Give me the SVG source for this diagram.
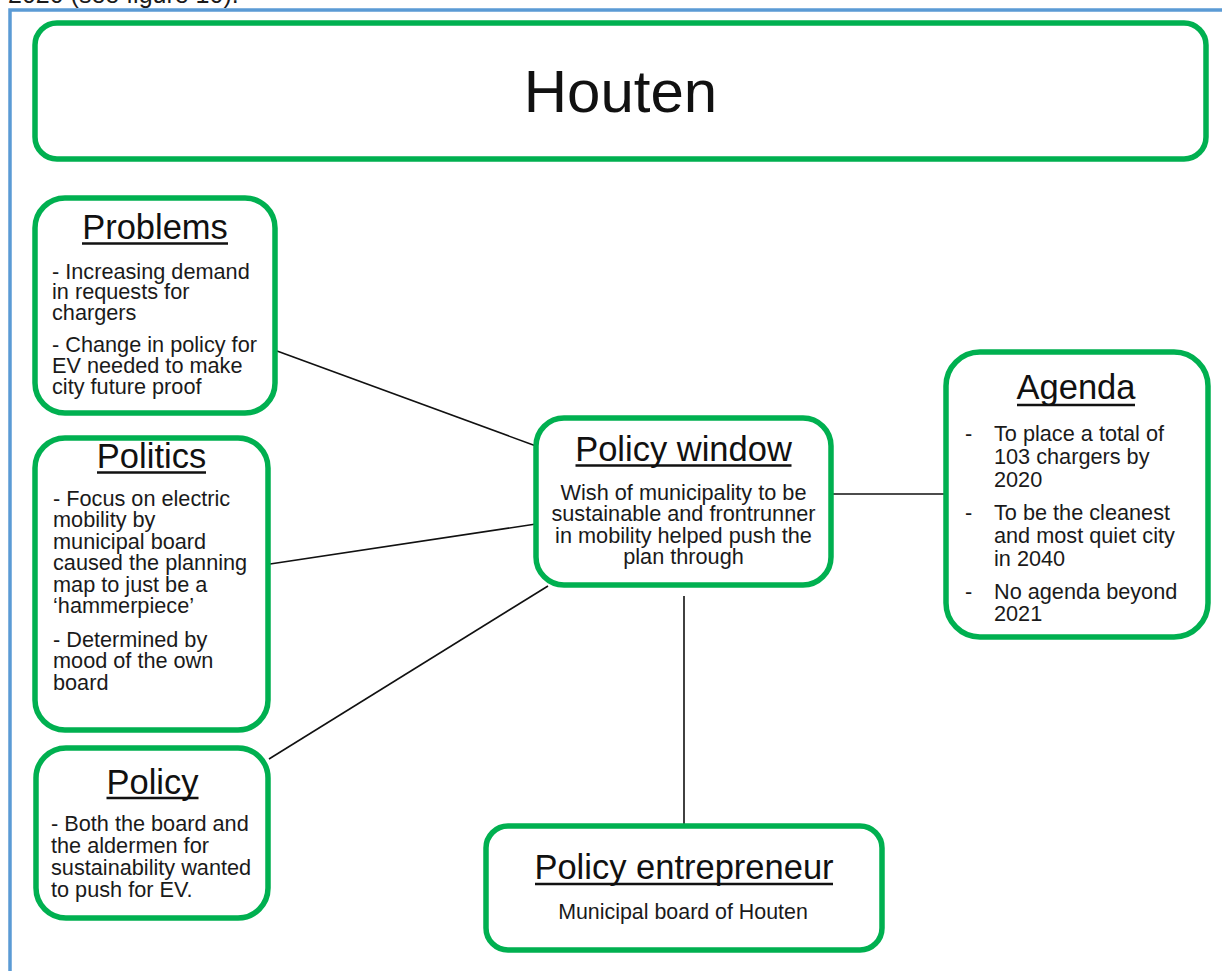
<svg xmlns="http://www.w3.org/2000/svg" width="1222" height="971" viewBox="0 0 1222 971">
  <style>
    .box { fill: #ffffff; stroke: #00b050; stroke-width: 5.5; }
    .frame { stroke: #5b9bd5; stroke-width: 3.5; fill: none; }
    .link { stroke: #111111; stroke-width: 1.6; fill: none; }
    .title { font-family: "Liberation Sans", Arial, sans-serif; font-size: 34.5px; fill: #111111; text-anchor: middle; }
    .uline { stroke: #111111; stroke-width: 2.4; }
    .body { font-family: "Liberation Sans", Arial, sans-serif; font-size: 21.7px; fill: #1a1a1a; }
    .mid { text-anchor: middle; }
    .head { font-family: "Liberation Sans", Arial, sans-serif; font-size: 60px; fill: #111111; text-anchor: middle; }
  </style>

  <rect width="1222" height="971" fill="#ffffff"/>

  <!-- running text above the figure frame, clipped by the page edge -->
  <text x="8" y="2.5" class="body" style="font-size:25px">2020 (see figure 10).</text>

  <!-- figure frame -->
  <path class="frame" d="M10,971 V10 H1222"/>

  <!-- connectors -->
  <g id="connectors">
    <line class="link" x1="277" y1="351" x2="536" y2="446"/>
    <line class="link" x1="270" y1="564" x2="536" y2="524"/>
    <line class="link" x1="269" y1="759" x2="548" y2="586"/>
    <line class="link" x1="832" y1="494" x2="944" y2="494"/>
    <line class="link" x1="684" y1="596" x2="684" y2="826"/>
  </g>

  <g id="houten">
    <rect class="box" x="35" y="23" width="1171" height="136" rx="22"/>
    <text class="head" x="620.5" y="112">Houten</text>
  </g>

  <g id="problems">
    <rect class="box" x="35" y="198" width="240" height="215" rx="30"/>
    <text class="title" x="155" y="238.5">Problems</text>
    <line class="uline" x1="82" y1="243.5" x2="228" y2="243.5"/>
    <text class="body" x="52" y="278.5">- Increasing demand</text>
    <text class="body" x="52" y="298.5">in requests for</text>
    <text class="body" x="52" y="319.5">chargers</text>
    <text class="body" x="52" y="352">- Change in policy for</text>
    <text class="body" x="52" y="373">EV needed to make</text>
    <text class="body" x="52" y="393.5">city future proof</text>
  </g>

  <g id="politics">
    <rect class="box" x="35" y="438" width="233" height="292" rx="30"/>
    <text class="title" x="151.5" y="467.5">Politics</text>
    <line class="uline" x1="97" y1="472.5" x2="206" y2="472.5"/>
    <text class="body" x="53" y="505.5">- Focus on electric</text>
    <text class="body" x="53" y="527">mobility by</text>
    <text class="body" x="53" y="548.5">municipal board</text>
    <text class="body" x="53" y="570">caused the planning</text>
    <text class="body" x="53" y="591.5">map to just be a</text>
    <text class="body" x="53" y="613">‘hammerpiece’</text>
    <text class="body" x="53" y="646.5">- Determined by</text>
    <text class="body" x="53" y="668">mood of the own</text>
    <text class="body" x="53" y="689.5">board</text>
  </g>

  <g id="policy">
    <rect class="box" x="36" y="748" width="232" height="170" rx="30"/>
    <text class="title" x="152.5" y="793.5">Policy</text>
    <line class="uline" x1="106.5" y1="798" x2="198.5" y2="798"/>
    <text class="body" x="51" y="831">- Both the board and</text>
    <text class="body" x="51" y="852.5">the aldermen for</text>
    <text class="body" x="51" y="874.5">sustainability wanted</text>
    <text class="body" x="51" y="896.5">to push for EV.</text>
  </g>

  <g id="policy-window">
    <rect class="box" x="536" y="418" width="295" height="167" rx="28"/>
    <text class="title" x="683.5" y="460.5">Policy window</text>
    <line class="uline" x1="575.5" y1="465.5" x2="791.5" y2="465.5"/>
    <text class="body mid" x="683.5" y="499.5">Wish of municipality to be</text>
    <text class="body mid" x="683.5" y="521">sustainable and frontrunner</text>
    <text class="body mid" x="683.5" y="542.5">in mobility helped push the</text>
    <text class="body mid" x="683.5" y="564">plan through</text>
  </g>

  <g id="agenda">
    <rect class="box" x="946" y="352" width="262" height="285" rx="34"/>
    <text class="title" x="1076" y="399">Agenda</text>
    <line class="uline" x1="1017" y1="405" x2="1135" y2="405"/>
    <text class="body" x="965" y="441">-</text>
    <text class="body" x="994" y="441">To place a total of</text>
    <text class="body" x="994" y="464">103 chargers by</text>
    <text class="body" x="994" y="487">2020</text>
    <text class="body" x="965" y="520">-</text>
    <text class="body" x="994" y="520">To be the cleanest</text>
    <text class="body" x="994" y="543">and most quiet city</text>
    <text class="body" x="994" y="566">in 2040</text>
    <text class="body" x="965" y="599">-</text>
    <text class="body" x="994" y="599">No agenda beyond</text>
    <text class="body" x="994" y="621">2021</text>
  </g>

  <g id="policy-entrepreneur">
    <rect class="box" x="486" y="826" width="396" height="124" rx="22"/>
    <text class="title" x="684" y="878.5">Policy entrepreneur</text>
    <line class="uline" x1="535" y1="884" x2="833" y2="884"/>
    <text class="body mid" x="683" y="918.5" style="font-size:21.4px">Municipal board of Houten</text>
  </g>
</svg>
